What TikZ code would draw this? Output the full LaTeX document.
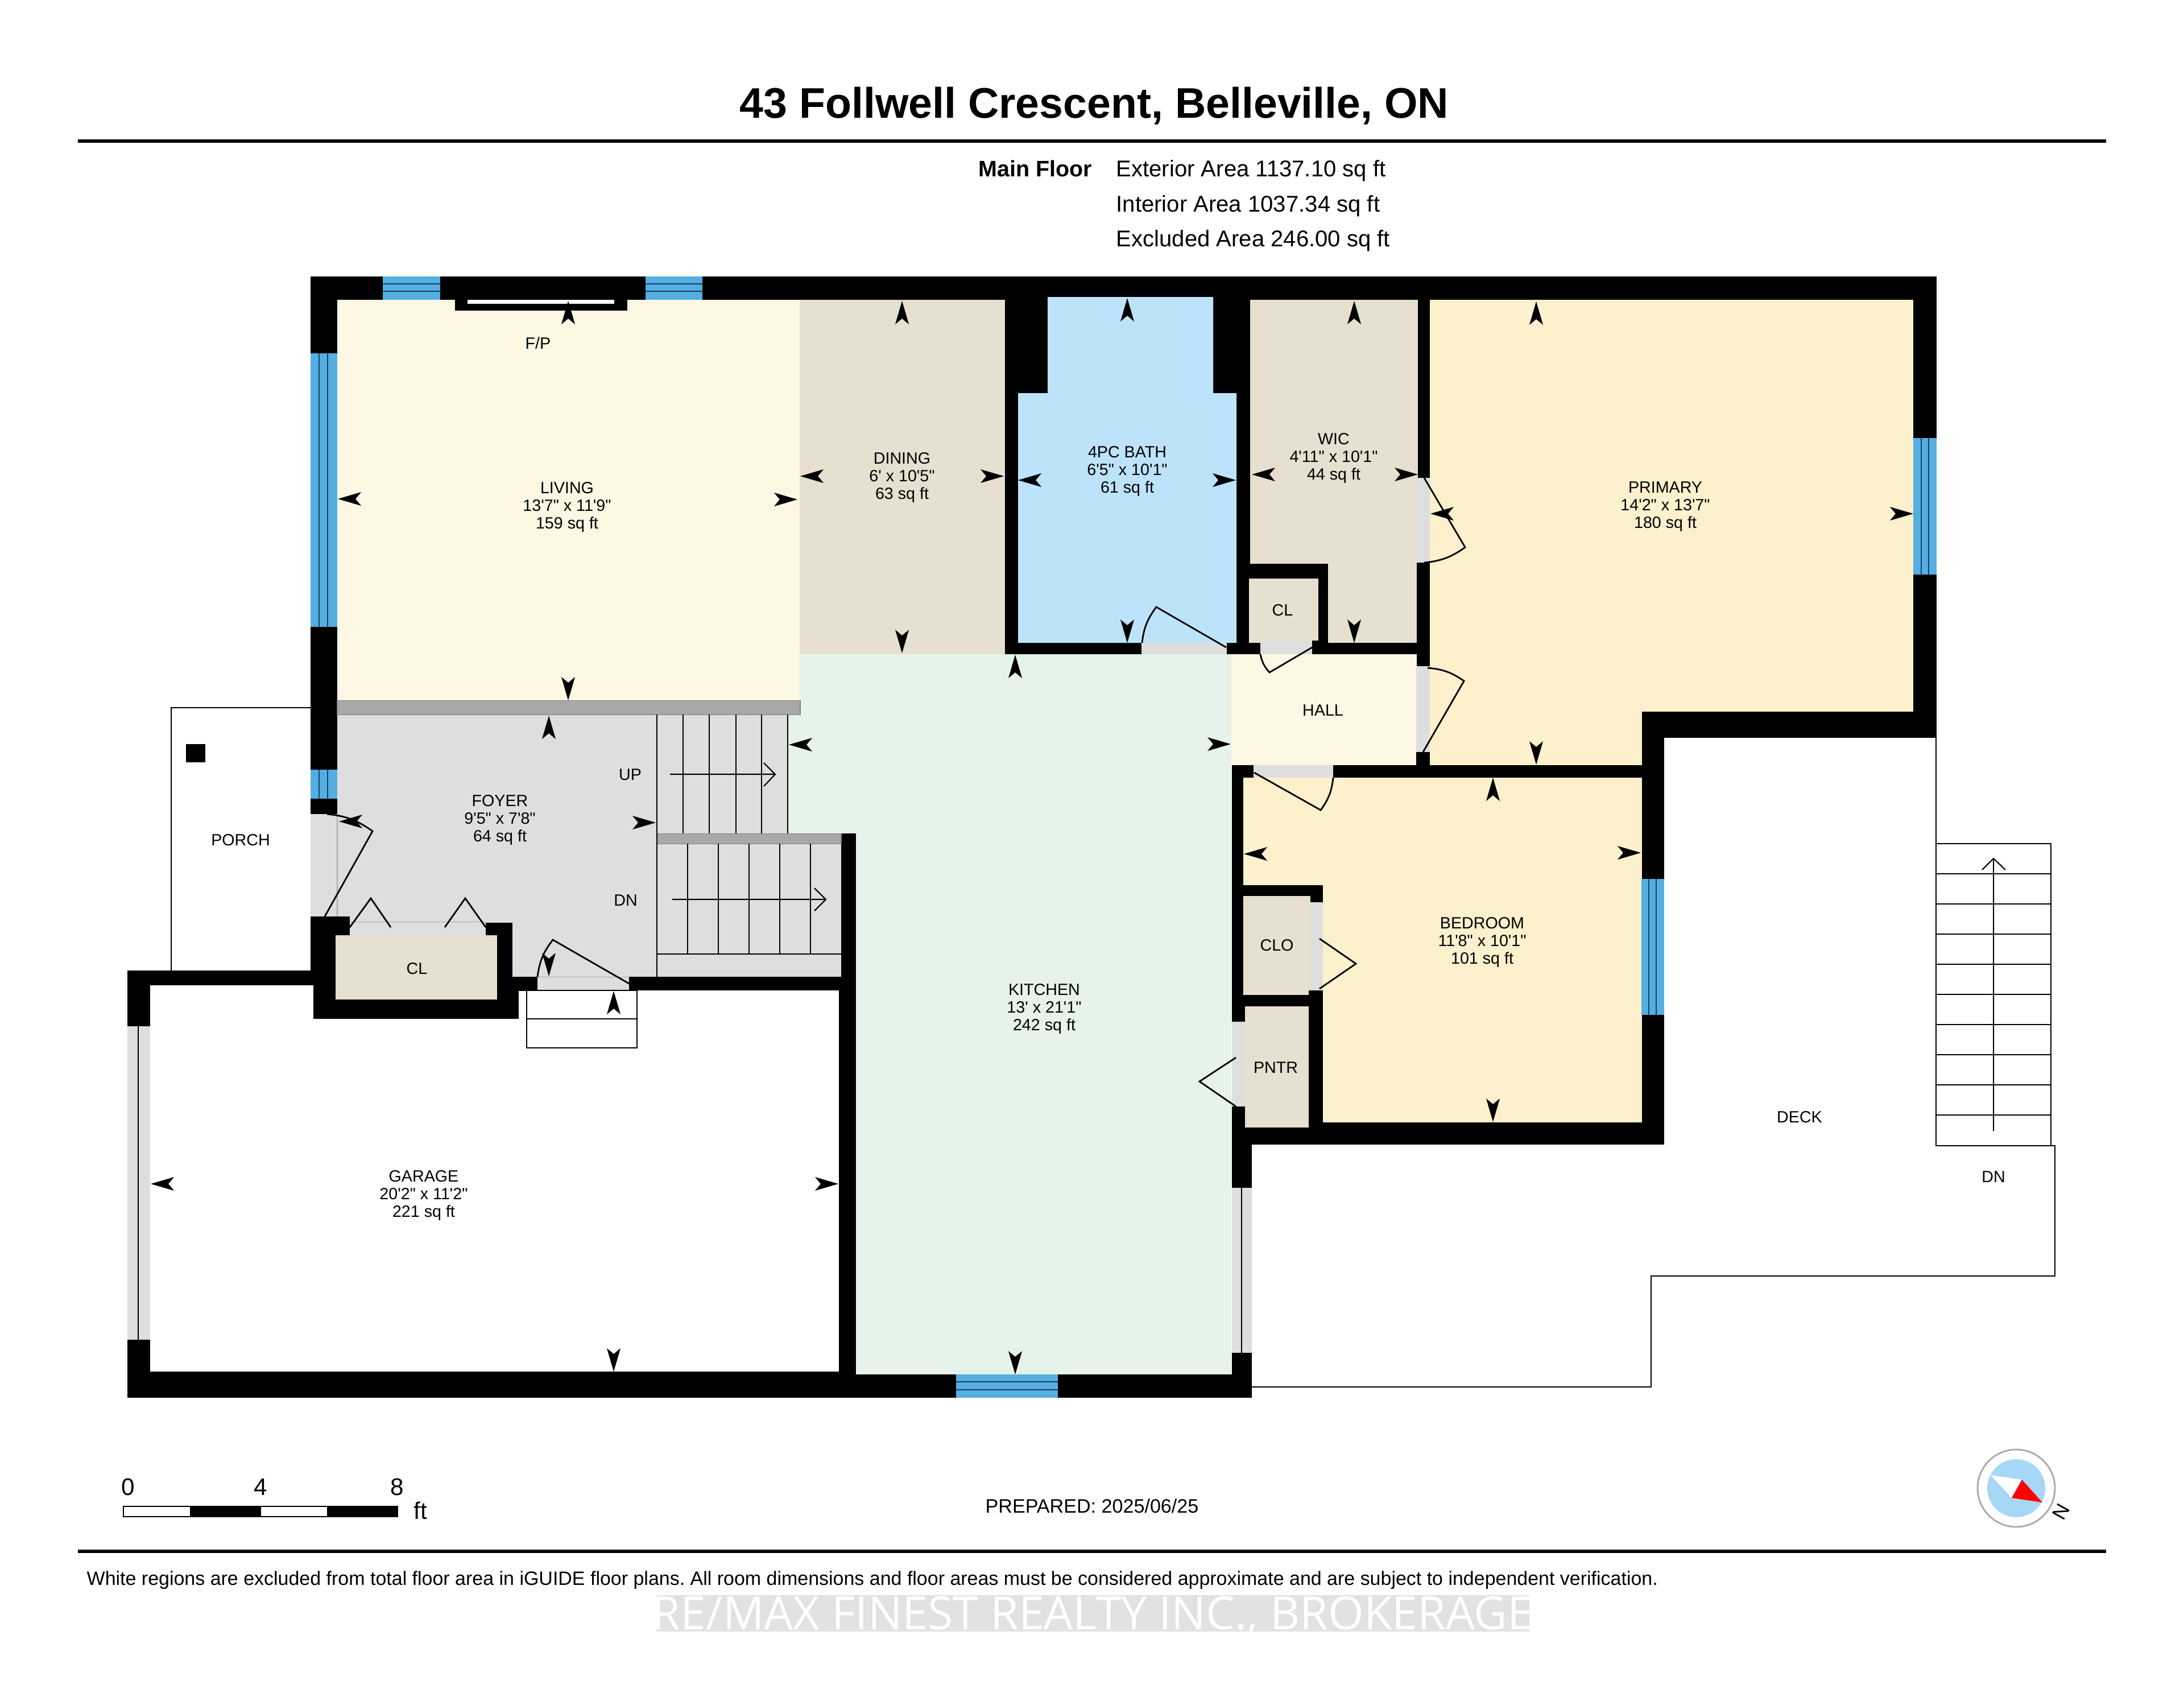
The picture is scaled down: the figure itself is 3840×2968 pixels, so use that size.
\documentclass[tikz,border=0pt]{standalone}
\usepackage{fontspec}
\setmainfont{Liberation Sans}[Ligatures=TeXOff]
\newfontfamily\markfont{Open Sans}
\frenchspacing
\definecolor{livingcol}{HTML}{FDF7E3}
\definecolor{closetcol}{HTML}{E7DFCF}
\definecolor{bathcol}{HTML}{BDE3FB}
\definecolor{bedcol}{HTML}{FDF0CD}
\definecolor{kitchencol}{HTML}{E6F3EA}
\definecolor{foyercol}{HTML}{DEDEDE}
\definecolor{railcol}{HTML}{A8A8A8}
\definecolor{glasscol}{HTML}{55AEE0}
\definecolor{glassline}{HTML}{16406F}
\definecolor{compasscol}{HTML}{A8D6F5}
\definecolor{stampcol}{HTML}{E2E2E2}
\tikzset{
  wallpart/.style={fill=black},
  opening/.style={fill=foyercol},
  openingedge/.style={draw=railcol,line width=0.3pt},
  glass/.style={fill=glasscol},
  glasslines/.style={draw=glassline,line width=0.6pt},
  railpart/.style={fill=railcol,draw=gray,line width=0.3pt},
  doorline/.style={draw=black,line width=0.8pt},
  thinline/.style={draw=black,line width=0.6pt},
  roomtext/.style={font=\fontsize{8.15}{8.8}\selectfont,align=center,inner sep=0pt},
  areatext/.style={font=\fontsize{11.4}{12}\selectfont,anchor=base west,inner sep=0pt},
  scaletext/.style={font=\fontsize{12}{13}\selectfont,anchor=base,inner sep=0pt},
  dimtip/.pic={\fill[black] (0,0) -- (-41,12) -- (-31,0) -- (-41,-12) -- cycle;}
}
\begin{document}
\begin{tikzpicture}[x=0.01cm,y=-0.01cm]
  \useasboundingbox (0,0) rectangle (3840,2968);
  \fill[white] (0,0) rectangle (3840,2968);
  \node[font=\fontsize{21.4}{23}\selectfont\bfseries,anchor=base,inner sep=0pt] (title) at (1924,207) {43 Follwell Crescent, Belleville, ON};
  \fill[black] (137,245) rectangle (3703,251);
  \node[font=\fontsize{11.2}{12}\selectfont\bfseries,anchor=base west,inner sep=0pt] (floorname) at (1720,310) {Main Floor};
  \node[areatext] (exterior) at (1962,310) {Exterior Area 1137.10 sq ft};
  \node[areatext] (interior) at (1962,372) {Interior Area 1037.34 sq ft};
  \node[areatext] (excluded) at (1962,433) {Excluded Area 246.00 sq ft};

  \fill[livingcol] (593,527) rectangle (1406,1231);
  \fill[closetcol] (1406,527) rectangle (1767,1150);
  \fill[closetcol] (2198,527) rectangle (2493,1130);
  \fill[bedcol] (2514,527) -- (3364,527) -- (3364,1251) -- (2887,1251) -- (2887,1345) -- (2514,1345) -- cycle;
  \fill[bedcol] (2186,1367) rectangle (2887,1973);
  \fill[livingcol] (2164,1150) rectangle (2490,1345);
  \fill[kitchencol] (1406,1150) -- (2165,1150) -- (2165,2416) -- (1505,2416) -- (1505,1465) -- (1385,1465) -- (1385,1256) -- (1406,1256) -- cycle;
  \fill[foyercol] (593,1256) -- (1385,1256) -- (1385,1465) -- (1479,1465) -- (1479,1717) -- (901,1717) -- (901,1622) -- (593,1622) -- cycle;
  \fill[closetcol] (590,1644) rectangle (874,1757);
  \fill[closetcol] (2196,1017) rectangle (2318,1126);
  \fill[closetcol] (2187,1575) rectangle (2304,1749);
  \fill[closetcol] (2189,1769) rectangle (2301,1982);

  \fill[wallpart] (546,486) rectangle (3405,527);
  \fill[wallpart] (546,486) rectangle (593,1431);
  \fill[wallpart] (546,1611) rectangle (615,1644);
  \fill[wallpart] (546,1644) rectangle (590,1732);
  \fill[wallpart] (551,1732) rectangle (590,1791);
  \fill[wallpart] (551,1757) rectangle (912,1791);
  \fill[wallpart] (854,1622) rectangle (901,1644);
  \fill[wallpart] (874,1644) rectangle (901,1757);
  \fill[wallpart] (874,1717) rectangle (912,1791);
  \fill[wallpart] (874,1717) rectangle (945,1742);
  \fill[wallpart] (1106,1717) rectangle (1479,1741);
  \fill[wallpart] (224,1706) rectangle (551,1732);
  \fill[wallpart] (224,1706) rectangle (264,1804);
  \fill[wallpart] (224,2355) rectangle (264,2457);
  \fill[wallpart] (224,2411) rectangle (1505,2457);
  \fill[wallpart] (1505,2416) rectangle (2201,2457);
  \fill[wallpart] (1479,1465) rectangle (1505,1741);
  \fill[wallpart] (1475,1741) rectangle (1505,2457);
  \fill[wallpart] (800,527) rectangle (1103,546);
  \fill[wallpart] (1767,527) rectangle (1790,1150);
  \fill[wallpart] (1767,527) rectangle (1842,691);
  \fill[wallpart] (1767,1130) rectangle (2007,1150);
  \fill[wallpart] (2133,527) rectangle (2198,691);
  \fill[wallpart] (2174,691) rectangle (2198,991);
  \fill[wallpart] (2174,991) rectangle (2196,1130);
  \fill[wallpart] (2157,1130) rectangle (2216,1150);
  \fill[wallpart] (2174,991) rectangle (2335,1017);
  \fill[wallpart] (2318,991) rectangle (2335,1150);
  \fill[wallpart] (2307,1126) rectangle (2335,1150);
  \fill[wallpart] (2335,1130) rectangle (2514,1150);
  \fill[wallpart] (2493,527) rectangle (2514,840);
  \fill[wallpart] (2491,989) rectangle (2514,1171);
  \fill[wallpart] (2490,1322) rectangle (2514,1367);
  \fill[wallpart] (2344,1345) rectangle (2925,1367);
  \fill[wallpart] (2166,1345) rectangle (2204,1367);
  \fill[wallpart] (2166,1345) rectangle (2186,1796);
  \fill[wallpart] (2186,1556) rectangle (2326,1575);
  \fill[wallpart] (2304,1575) rectangle (2326,1586);
  \fill[wallpart] (2186,1749) rectangle (2304,1769);
  \fill[wallpart] (2166,1769) rectangle (2189,1796);
  \fill[wallpart] (2301,1741) rectangle (2326,1982);
  \fill[wallpart] (2166,1945) rectangle (2189,1982);
  \fill[wallpart] (2166,1982) rectangle (2201,2088);
  \fill[wallpart] (2166,2378) rectangle (2201,2457);
  \fill[wallpart] (2166,1982) rectangle (2326,2012);
  \fill[wallpart] (2326,1973) rectangle (2926,2012);
  \fill[wallpart] (2887,1251) rectangle (2926,2012);
  \fill[wallpart] (2887,1251) rectangle (3405,1297);
  \fill[wallpart] (3364,486) rectangle (3405,1297);
  \fill[white] (822,527) rectangle (1080,534);
  \fill[bathcol] (1842,522) -- (2133,522) -- (2133,691) -- (2174,691) -- (2174,1130) -- (1790,1130) -- (1790,691) -- (1842,691) -- cycle;

  \fill[glass] (673,486) rectangle (774,527);
  \fill[glass] (1135,486) rectangle (1235,527);
  \fill[glass] (546,621) rectangle (593,1102);
  \fill[glass] (546,1353) rectangle (593,1404);
  \fill[glass] (1681,2416) rectangle (1860,2457);
  \fill[glass] (3364,770) rectangle (3405,1010);
  \fill[glass] (2886,1545) rectangle (2926,1784);
  \draw[glasslines] (673,499) -- (774,499) (673,512) -- (774,512);
  \draw[glasslines] (1135,499) -- (1235,499) (1135,512) -- (1235,512);
  \draw[glasslines] (561,621) -- (561,1102) (576,621) -- (576,1102);
  \draw[glasslines] (561,1353) -- (561,1404) (576,1353) -- (576,1404);
  \draw[glasslines] (1681,2429) -- (1860,2429) (1681,2443) -- (1860,2443);
  \draw[glasslines] (3378,770) -- (3378,1010) (3391,770) -- (3391,1010);
  \draw[glasslines] (2899,1545) -- (2899,1784) (2912,1545) -- (2912,1784);

  \fill[opening] (546,1431) rectangle (593,1611);
  \fill[opening] (615,1620) rectangle (854,1644);
  \fill[opening] (945,1717) rectangle (1106,1741);
  \fill[opening] (2007,1130) rectangle (2157,1150);
  \fill[opening] (2216,1126) rectangle (2307,1150);
  \fill[opening] (2491,840) rectangle (2514,989);
  \fill[opening] (2490,1171) rectangle (2514,1322);
  \fill[opening] (2204,1345) rectangle (2344,1367);
  \fill[opening] (2304,1586) rectangle (2326,1741);
  \fill[opening] (2166,1796) rectangle (2189,1945);
  \fill[opening] (224,1804) rectangle (264,2355);
  \fill[opening] (2166,2088) rectangle (2201,2378);
  \draw[openingedge] (593,1431) -- (593,1611) (615,1620) -- (854,1620) (945,1717) -- (1106,1717);
  \draw[thinline] (243,1804) -- (243,2355);
  \draw[thinline] (2183,2088) -- (2183,2378);

  \fill[railpart] (593,1231) rectangle (1407,1256);
  \fill[railpart] (1155,1465) rectangle (1479,1483);
  \draw[thinline] (1155,1256) -- (1155,1717) (1201,1256) -- (1201,1465) (1247,1256) -- (1247,1465) (1294,1256) -- (1294,1465) (1339,1256) -- (1339,1465) (1385,1256) -- (1385,1465);
  \draw[thinline] (1209,1483) -- (1209,1677) (1263,1483) -- (1263,1677) (1317,1483) -- (1317,1677) (1371,1483) -- (1371,1677) (1425,1483) -- (1425,1677) (1155,1677) -- (1479,1677);
  \draw[thinline] (1178,1361) -- (1363,1361) (1343,1341) -- (1363,1361) -- (1343,1382);
  \draw[thinline] (1182,1581) -- (1452,1581) (1432,1561) -- (1452,1581) -- (1432,1601);

  \draw[doorline] (571,1611) -- (655,1461) to[bend right=15] (575,1431);
  \draw[doorline] (1106,1729) -- (972,1652) to[bend right=15] (945,1717);
  \draw[doorline] (2156,1138) -- (2033,1067) to[bend right=15] (2008,1130);
  \draw[doorline] (2307,1138) -- (2232,1182) to[bend left=15] (2216,1150);
  \draw[doorline] (2205,1358) -- (2322,1424) to[bend right=15] (2344,1367);
  \draw[doorline] (2502,1322) -- (2574,1197) to[bend right=15] (2510,1174);
  \draw[doorline] (2504,840) -- (2576,962) to[bend left=15] (2504,989);
  \draw[doorline] (615,1630) -- (652,1579) -- (687,1630);
  \draw[doorline] (782,1630) -- (818,1579) -- (854,1630);
  \draw[doorline] (2320,1650) -- (2384,1694) -- (2320,1738);
  \draw[doorline] (2173,1859) -- (2109,1901) -- (2173,1945);

  \draw[thinline] (546,1244) -- (301,1244) -- (301,1706);
  \fill[black] (327,1308) rectangle (361,1340);
  \draw[doorline] (926,1741) rectangle (1120,1842) (926,1791) -- (1120,1791);
  \draw[thinline] (3404,1297) -- (3404,2014) (3404,2014) -- (3613,2014) -- (3613,2243) -- (2903,2243) -- (2903,2438) -- (2201,2438);
  \draw[thinline] (3404,1483) rectangle (3606,2014);
  \draw[thinline] (3404,1536) -- (3606,1536) (3404,1589) -- (3606,1589) (3404,1642) -- (3606,1642) (3404,1695) -- (3606,1695) (3404,1748) -- (3606,1748) (3404,1801) -- (3606,1801) (3404,1854) -- (3606,1854) (3404,1907) -- (3606,1907) (3404,1960) -- (3606,1960);
  \draw[thinline] (3505,1988) -- (3505,1509) (3485,1529) -- (3505,1509) -- (3526,1529);

  \node[roomtext] (living) at (997,891) {LIVING\\13'7" x 11'9"\\159 sq ft};
  \node[roomtext] (fp) at (946,603) {F/P};
  \node[roomtext] (dining) at (1586,839) {DINING\\6' x 10'5"\\63 sq ft};
  \node[roomtext] (bath) at (1982,828) {4PC BATH\\6'5" x 10'1"\\61 sq ft};
  \node[roomtext] (wic) at (2345,805) {WIC\\4'11" x 10'1"\\44 sq ft};
  \node[roomtext] (primary) at (2928,891) {PRIMARY\\14'2" x 13'7"\\180 sq ft};
  \node[roomtext] (closeta) at (2255,1073) {CL};
  \node[roomtext] (hall) at (2326,1249) {HALL};
  \node[roomtext] (foyer) at (879,1441) {FOYER\\9'5" x 7'8"\\64 sq ft};
  \node[roomtext] (upstairs) at (1108,1362) {UP};
  \node[roomtext] (downstairs) at (1100,1583) {DN};
  \node[roomtext] (porch) at (423,1477) {PORCH};
  \node[roomtext] (closetb) at (733,1703) {CL};
  \node[roomtext] (kitchen) at (1836,1773) {KITCHEN\\13' x 21'1"\\242 sq ft};
  \node[roomtext] (bedroom) at (2606,1656) {BEDROOM\\11'8" x 10'1"\\101 sq ft};
  \node[roomtext] (clo) at (2245,1662) {CLO};
  \node[roomtext] (pntr) at (2243,1877) {PNTR};
  \node[roomtext] (garage) at (745,2101) {GARAGE\\20'2" x 11'2"\\221 sq ft};
  \node[roomtext] (deck) at (3164,1964) {DECK};
  \node[roomtext] (deckdown) at (3505,2069) {DN};

  \pic[rotate=90] at (999,529) {dimtip};
  \pic[rotate=270] at (999,1231) {dimtip};
  \pic[rotate=180] at (594,877) {dimtip};
  \pic at (1402,878) {dimtip};
  \pic[rotate=90] at (1586,529) {dimtip};
  \pic[rotate=270] at (1586,1148) {dimtip};
  \pic[rotate=180] at (1407,837) {dimtip};
  \pic at (1765,837) {dimtip};
  \pic[rotate=90] at (1982,524) {dimtip};
  \pic[rotate=270] at (1982,1130) {dimtip};
  \pic[rotate=180] at (1790,844) {dimtip};
  \pic at (2173,844) {dimtip};
  \pic[rotate=90] at (2381,529) {dimtip};
  \pic[rotate=270] at (2381,1130) {dimtip};
  \pic[rotate=180] at (2201,834) {dimtip};
  \pic at (2493,834) {dimtip};
  \pic[rotate=90] at (1785,1151) {dimtip};
  \pic[rotate=270] at (1785,2416) {dimtip};
  \pic[rotate=180] at (1387,1309) {dimtip};
  \pic at (2164,1308) {dimtip};
  \pic[rotate=90] at (2701,530) {dimtip};
  \pic[rotate=270] at (2701,1344) {dimtip};
  \pic[rotate=180] at (2515,903) {dimtip};
  \pic at (3364,903) {dimtip};
  \pic[rotate=90] at (2625,1367) {dimtip};
  \pic[rotate=270] at (2625,1972) {dimtip};
  \pic[rotate=180] at (2187,1501) {dimtip};
  \pic at (2885,1499) {dimtip};
  \pic[rotate=90] at (965,1258) {dimtip};
  \pic[rotate=270] at (965,1716) {dimtip};
  \pic[rotate=180] at (596,1444) {dimtip};
  \pic at (1153,1446) {dimtip};
  \pic[rotate=90] at (1079,1742) {dimtip};
  \pic[rotate=270] at (1079,2411) {dimtip};
  \pic[rotate=180] at (265,2081) {dimtip};
  \pic at (1474,2081) {dimtip};

  \node[scaletext] (scalea) at (225,2628) {0};
  \node[scaletext] (scaleb) at (458,2628) {4};
  \node[scaletext] (scalec) at (698,2628) {8};
  \node[scaletext] (scaleunit) at (739,2670) {ft};
  \draw[draw=black,line width=0.6pt] (217,2648) rectangle (699,2666);
  \fill[black] (334,2647) rectangle (459,2667);
  \fill[black] (575,2647) rectangle (699,2667);
  \node[font=\fontsize{9.7}{11}\selectfont,inner sep=0pt] (prepared) at (1920,2647) {PREPARED: 2025/06/25};

  \fill[white] (3545,2616) circle (68);
  \draw[draw=railcol,line width=0.8pt] (3545,2616) circle (68);
  \fill[compasscol] (3545,2616) circle (51);
  \fill[white] (3500,2593) -- (3555,2601) -- (3537,2633) -- cycle;
  \fill[red] (3555,2601) -- (3591,2641) -- (3537,2633) -- cycle;
  \node[font=\fontsize{10}{11}\selectfont,rotate=-119,inner sep=0pt] (north) at (3624,2657) {N};

  \fill[black] (137,2724) rectangle (3703,2730);
  \node[font=\fontsize{9.66}{11}\selectfont,anchor=base west,inner sep=0pt] (disclaimer) at (152,2786) {White regions are excluded from total floor area in iGUIDE floor plans. All room dimensions and floor areas must be considered approximate and are subject to independent verification.};
  \fill[stampcol] (1154,2804) rectangle (2689,2868);
  \node[font=\fontsize{22.9}{25}\selectfont\markfont,text=white,inner sep=0pt] (stamp) at (1921,2840) {RE/MAX FINEST REALTY INC., BROKERAGE};
\end{tikzpicture}
\end{document}
